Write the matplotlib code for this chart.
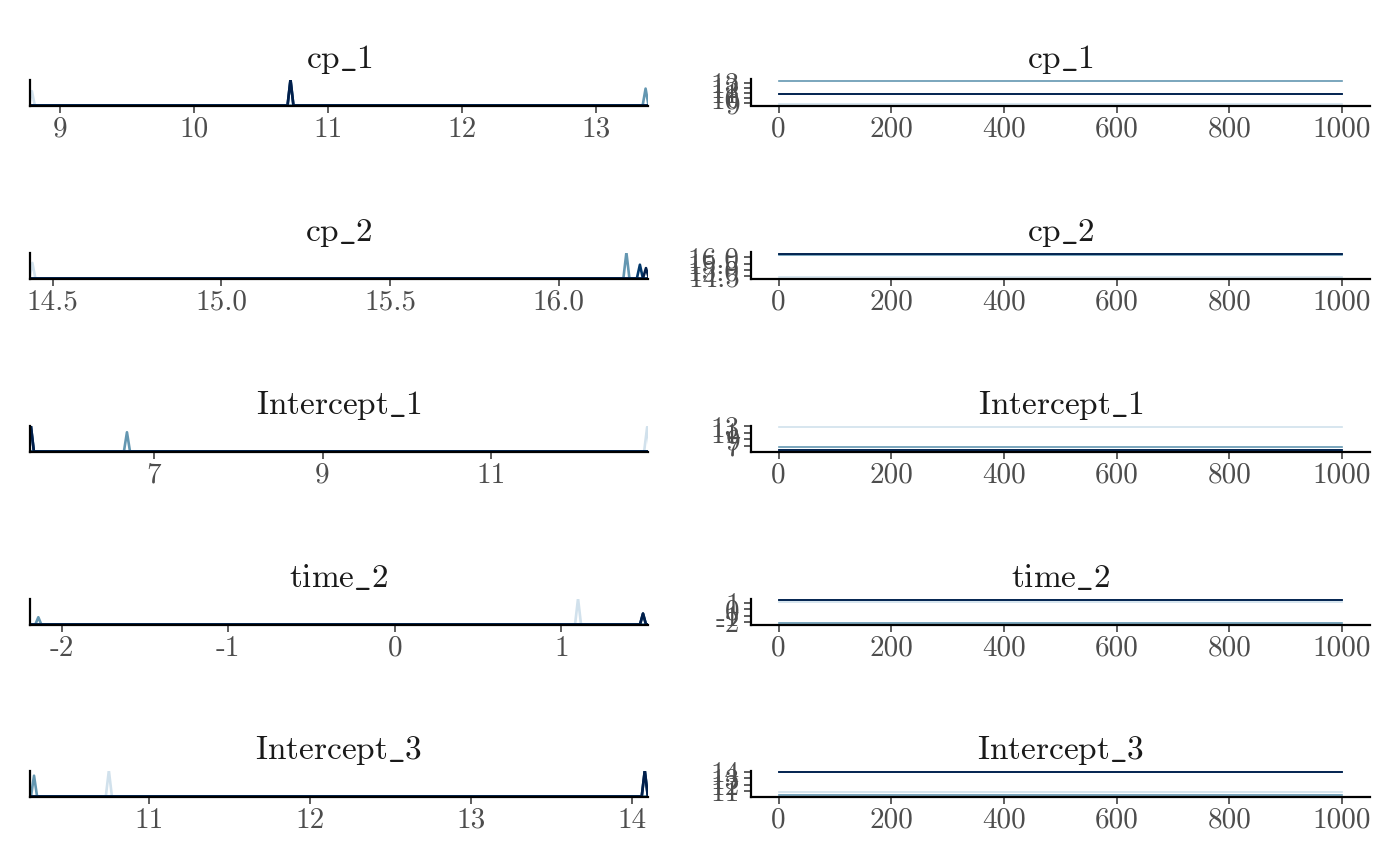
import numpy as np
import matplotlib.pyplot as plt

plt.rcParams['font.family'] = ['cmr10', 'DejaVu Serif']
plt.rcParams['mathtext.fontset'] = 'cm'
plt.rcParams['axes.unicode_minus'] = False

params = ['cp_1', 'cp_2', 'Intercept_1', 'time_2', 'Intercept_3']
chain_colors = ['#d1e1ec', '#6497b1', '#03396c', '#011f4b']

# value each chain got stuck at (one entry per parameter)
chain1 = [8.79, 14.44, 12.85, 1.10, 10.75]
chain2 = [13.37, 16.20, 6.68, -2.14, 10.285]
chain3 = [10.72, 16.24, 5.54, 1.49, 14.08]
chain4 = [10.72, 16.258, 5.54, 1.49, 14.08]

# spike heights, relative to the tallest spike in the panel
peak1 = [0.55, 0.60, 0.94, 1.00, 1.00]
peak2 = [0.65, 1.00, 0.74, 0.28, 0.80]
peak3 = [1.00, 0.53, 1.00, 0.42, 1.00]
peak4 = [1.00, 0.40, 1.00, 0.42, 1.00]

# half width of a spike, in parameter units
spike_half = [0.022, 0.009, 0.036, 0.018, 0.019]

# min / max over all draws
draw_min = [8.776, 14.433, 5.53, -2.19, 10.26]
draw_max = [13.388, 16.264, 12.86, 1.52, 14.10]

dens_ticks = [[9, 10, 11, 12, 13], [14.5, 15.0, 15.5, 16.0], [7, 9, 11],
              [-2, -1, 0, 1], [11, 12, 13, 14]]
trace_ticks = [[9, 10, 11, 12, 13], [14.5, 15.0, 15.5, 16.0], [7, 9, 11, 13],
               [-2, -1, 0, 1], [11, 12, 13, 14]]
iterations = [1, 1000]
iter_ticks = [0, 200, 400, 600, 800, 1000]

chains = [chain1, chain2, chain3, chain4]
peaks = [peak1, peak2, peak3, peak4]

tick_size = 21
title_size = 24
label_color = '#4d4d4d'


def fmt(v, one_decimal):
    return f'{v:.1f}' if one_decimal else f'{v:g}'


def title_text(name):
    # cmr10 has no plain underscore, so go through mathtext
    return r'$\mathrm{' + name.replace('_', r'\_') + '}$'


def style(ax):
    for s in ['top', 'right']:
        ax.spines[s].set_visible(False)
    for s in ['left', 'bottom']:
        ax.spines[s].set_linewidth(1.6)
        ax.spines[s].set_color('black')
    ax.tick_params(length=5, width=1.1, color='#333333', labelsize=tick_size,
                   labelcolor=label_color, pad=3)
    ax.set_facecolor('none')


fig = plt.figure(figsize=(14, 8.66), dpi=100)
W, H = 1400, 866
row_bottom = [105.5, 278.5, 451.5, 624.5, 796.5]
row_h = 26

for i, p in enumerate(params):
    b = 1 - row_bottom[i] / H
    h = row_h / H
    one_dec = p == 'cp_2'

    # density panel
    ax = fig.add_axes([30 / W, b, 618 / W, h])
    style(ax)
    for c in range(4):
        x0 = chains[c][i]
        w = spike_half[i]
        xs = [draw_min[i], x0 - w, x0, x0 + w, draw_max[i]]
        ys = [0, 0, peaks[c][i], 0, 0]
        ax.plot(xs, ys, color=chain_colors[c], lw=1.9, solid_joinstyle='round')
    ax.set_xlim(draw_min[i], draw_max[i])
    ax.set_ylim(0, 1)
    ax.set_yticks([])
    ax.set_xticks(dens_ticks[i])
    ax.set_xticklabels([fmt(v, one_dec) for v in dens_ticks[i]])
    ax.set_title(title_text(p), fontsize=title_size, color='#1a1a1a', pad=8)

    # trace panel
    ax = fig.add_axes([751 / W, b, 619 / W, h])
    style(ax)
    for c in range(4):
        ax.plot(iterations, [chains[c][i]] * 2, color=chain_colors[c], lw=1.2)
    span = draw_max[i] - draw_min[i]
    ax.set_ylim(draw_min[i] - 0.05 * span, draw_max[i] + 0.05 * span)
    ax.set_xlim(1 - 0.05 * 999, 1000 + 0.05 * 999)
    ax.set_xticks(iter_ticks)
    ax.set_yticks(trace_ticks[i])
    ax.set_yticklabels([fmt(v, one_dec) for v in trace_ticks[i]])
    ax.set_title(title_text(p), fontsize=title_size, color='#1a1a1a', pad=8)

fig.savefig('out.png', dpi=100, facecolor='white')
